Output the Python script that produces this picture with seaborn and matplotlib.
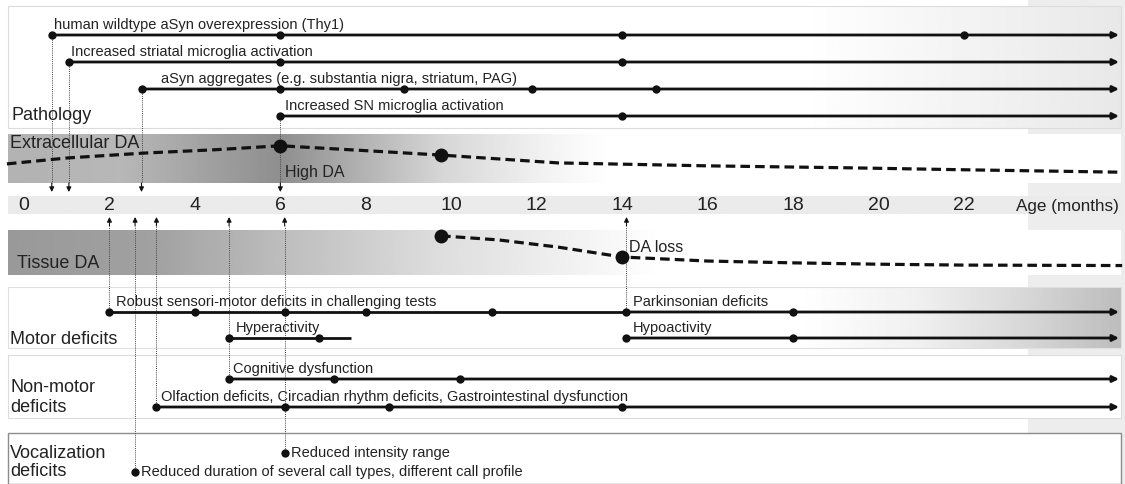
import numpy as np
import pandas as pd
import matplotlib.pyplot as plt
import seaborn as sns
from matplotlib.patches import Rectangle

# Datos (meses)
age_ticks = [0, 2, 4, 6, 8, 10, 12, 14, 16, 18, 20, 22]

path_labels = ["human wildtype aSyn overexpression (Thy1)",
               "Increased striatal microglia activation",
               "aSyn aggregates (e.g. substantia nigra, striatum, PAG)",
               "Increased SN microglia activation"]
path_start = [0.65, 1.05, 2.75, 6.0]
path_dots = [[6, 14, 22], [6, 14], [6, 8.9, 11.9, 14.8], [14]]

motor_labels = ["Robust sensori-motor deficits in challenging tests", "Hyperactivity",
                "Parkinsonian deficits", "Hypoactivity"]
motor_start = [2.0, 4.8, 14.1, 14.1]
motor_stop = [14.1, 7.65, None, None]
motor_dots = [[4, 6.1, 8, 10.95], [6.9], [18], [18]]

nonmotor_labels = ["Cognitive dysfunction",
                   "Olfaction deficits, Circadian rhythm deficits, Gastrointestinal dysfunction"]
nonmotor_start = [4.8, 3.1]
nonmotor_dots = [[7.25, 10.2], [6.1, 8.55, 14.0]]

vocal_labels = ["Reduced intensity range",
                "Reduced duration of several call types, different call profile"]
vocal_onset = [6.1, 2.6]

# niveles de DA (0 = abajo de la banda, 1 = arriba)
ecda_months = [-0.4, 1, 2.8, 4.5, 6, 8, 9.76, 12.5, 16, 19.3, 22, 25.7]
ecda_level = [0.39, 0.51, 0.61, 0.68, 0.76, 0.66, 0.57, 0.41, 0.35, 0.31, 0.27, 0.22]
ecda_marks = [6, 9.76]

tissue_months = [9.76, 11.1, 12.5, 14, 16, 18, 20, 22, 25.7]
tissue_level = [0.87, 0.78, 0.62, 0.40, 0.31, 0.27, 0.24, 0.22, 0.21]
tissue_marks = [9.76, 14]

# Layout (pixeles -> meses)
def px(p):
    return (p - 24) / 42.73

X0, X1 = px(8), px(1121)
ARROW_END = px(1119)

sns.set_theme(style="white")
plt.rcParams['font.family'] = ['Liberation Sans', 'DejaVu Sans']

fig = plt.figure(figsize=(11.25, 4.84), dpi=100)
ax = fig.add_axes([0, 0, 1, 1])
ax.axis('off')

# fondo gris a la derecha
ax.add_patch(Rectangle((px(1028), 0), px(1125) - px(1028), 484, color='#ededed', zorder=0, lw=0))


def band(y0, y1, stops, grays, edge=None, lw=0.8):
    xs = np.linspace(8, 1121, 500)
    g = np.interp(xs, stops, grays)
    ax.imshow(np.tile(g, (2, 1)), cmap='gray', vmin=0, vmax=1,
              extent=(X0, X1, y1, y0), aspect='auto', zorder=1, interpolation='bilinear')
    if edge:
        ax.add_patch(Rectangle((X0, y0), X1 - X0, y1 - y0, fill=False,
                               edgecolor=edge, lw=lw, zorder=2))


band(6, 128, [8, 800, 1121], [1, 1, 0.91], edge='#dcdcdc')
band(134, 183, [8, 120, 200, 279, 340, 441, 545, 610, 1121],
     [0.70, 0.72, 0.64, 0.56, 0.66, 0.84, 0.95, 1, 1])
band(196, 214, [8, 1121], [0.92, 0.92])
band(230, 275, [8, 150, 280, 441, 545, 660, 1121], [0.6, 0.63, 0.74, 0.87, 0.93, 1, 1])
band(287, 348, [8, 800, 920, 1020, 1121], [1, 1, 0.94, 0.85, 0.74], edge='#e0e0e0')
band(355, 418, [8, 1121], [1, 1], edge='#dcdcdc')
band(433, 484, [8, 1121], [1, 1], edge='#8c8c8c', lw=1.0)

# etiquetas de grupo
grp = dict(fontsize=13, color='#222', va='center', zorder=6)
ax.text(px(11), 115, "Pathology", **grp)
ax.text(px(10), 144, "Extracellular DA", **grp)
ax.text(px(17), 263, "Tissue DA", **grp)
ax.text(px(10), 339, "Motor deficits", **grp)
ax.text(px(10), 387, "Non-motor", **grp)
ax.text(px(10), 407, "deficits", **grp)
ax.text(px(10), 453, "Vocalization", **grp)
ax.text(px(10), 472, "deficits", **grp)

# eje de edad
for m in age_ticks:
    ax.text(m, 206, str(m), fontsize=14, ha='center', va='center', color='#222', zorder=6)
ax.text(px(1016), 206, "Age (months)", fontsize=12.3, ha='left', va='center', color='#222', zorder=6)


def connector(m, y_from, tip):
    # linea punteada con flecha hacia el eje
    step = 9 if y_from > tip else -9
    ax.plot([m, m], [y_from, tip + step], ls=(0, (1, 1.2)), lw=0.7, color='#444', zorder=3)
    ax.annotate("", xy=(m, tip), xytext=(m, tip + step),
                arrowprops=dict(arrowstyle='-|>', color='#111', lw=0.8, mutation_scale=7,
                                shrinkA=0, shrinkB=0), zorder=3)


def event(label, start, row, stop=None, tx=None, ty=None):
    end = ARROW_END if stop is None else stop
    if stop is None:
        ax.annotate("", xy=(end, row), xytext=(start, row),
                    arrowprops=dict(arrowstyle='-|>', color='#111', lw=2.0, mutation_scale=9,
                                    shrinkA=0, shrinkB=0), zorder=4)
    else:
        ax.plot([start, end], [row, row], color='#111', lw=2.0, zorder=4, solid_capstyle='butt')
    if label:
        ax.text(start + (tx if tx is not None else 0.1), row - (ty if ty is not None else 10),
                label, fontsize=10.5, color='#222', va='center', ha='left', zorder=6)


dot_rows = []

# Pathology
path_rows = [35, 62, 89, 116]
path_tx = [0.05, 0.05, 0.45, 0.1]
for lab, s, d, r, t in zip(path_labels, path_start, path_dots, path_rows, path_tx):
    event(lab, s, r, tx=t)
    dot_rows += [(s, r)] + [(m, r) for m in d]
    connector(s, r, 192)

# Motor
motor_rows = [312, 338, 312, 338]
for lab, s, e, d, r in zip(motor_labels, motor_start, motor_stop, motor_dots, motor_rows):
    event(lab, s, r, stop=e, tx=0.15)
    dot_rows += [(s, r)] + [(m, r) for m in d]
connector(motor_start[0], motor_rows[0], 217)
connector(motor_start[2], motor_rows[2], 217)

# Non-motor
nonmotor_rows = [379, 407]
for lab, s, d, r in zip(nonmotor_labels, nonmotor_start, nonmotor_dots, nonmotor_rows):
    event(lab, s, r, tx=0.1)
    dot_rows += [(s, r)] + [(m, r) for m in d]
    connector(s, r, 217)

# Vocalization
vocal_rows = [453, 472]
for lab, m, r in zip(vocal_labels, vocal_onset, vocal_rows):
    dot_rows.append((m, r))
    ax.text(m + 0.14, r, lab, fontsize=10.5, color='#222', va='center', ha='left', zorder=6)
    connector(m, r, 217)

dots = pd.DataFrame(dot_rows, columns=["month", "row"])
sns.scatterplot(data=dots, x="month", y="row", color='#111', s=36, linewidth=0, zorder=5, ax=ax, legend=False)

# curvas de DA
ec = pd.DataFrame({"month": ecda_months, "y": [183 - 49 * v for v in ecda_level]})
ti = pd.DataFrame({"month": tissue_months, "y": [275 - 45 * v for v in tissue_level]})
for df in (ec, ti):
    sns.lineplot(data=df, x="month", y="y", color='#111', lw=2.3, ls=(0, (3, 1.6)),
                 sort=False, estimator=None, ax=ax, zorder=4)
marks = pd.DataFrame({
    "month": ecda_marks + tissue_marks,
    "y": [float(np.interp(m, ec.month, ec.y)) for m in ecda_marks]
         + [float(np.interp(m, ti.month, ti.y)) for m in tissue_marks]})
sns.scatterplot(data=marks, x="month", y="y", color='#111', s=100, linewidth=0, zorder=5, ax=ax, legend=False)

ax.text(6.1, 172, "High DA", fontsize=11.5, color='#222', va='center', zorder=6)
ax.text(14.15, 248, "DA loss", fontsize=11.5, color='#222', va='center', zorder=6)

ax.set_xlim(px(0), px(1125))
ax.set_ylim(484, 0)
ax.set_xlabel("")
ax.set_ylabel("")
ax.axis('off')

plt.savefig("out.png", dpi=100)
